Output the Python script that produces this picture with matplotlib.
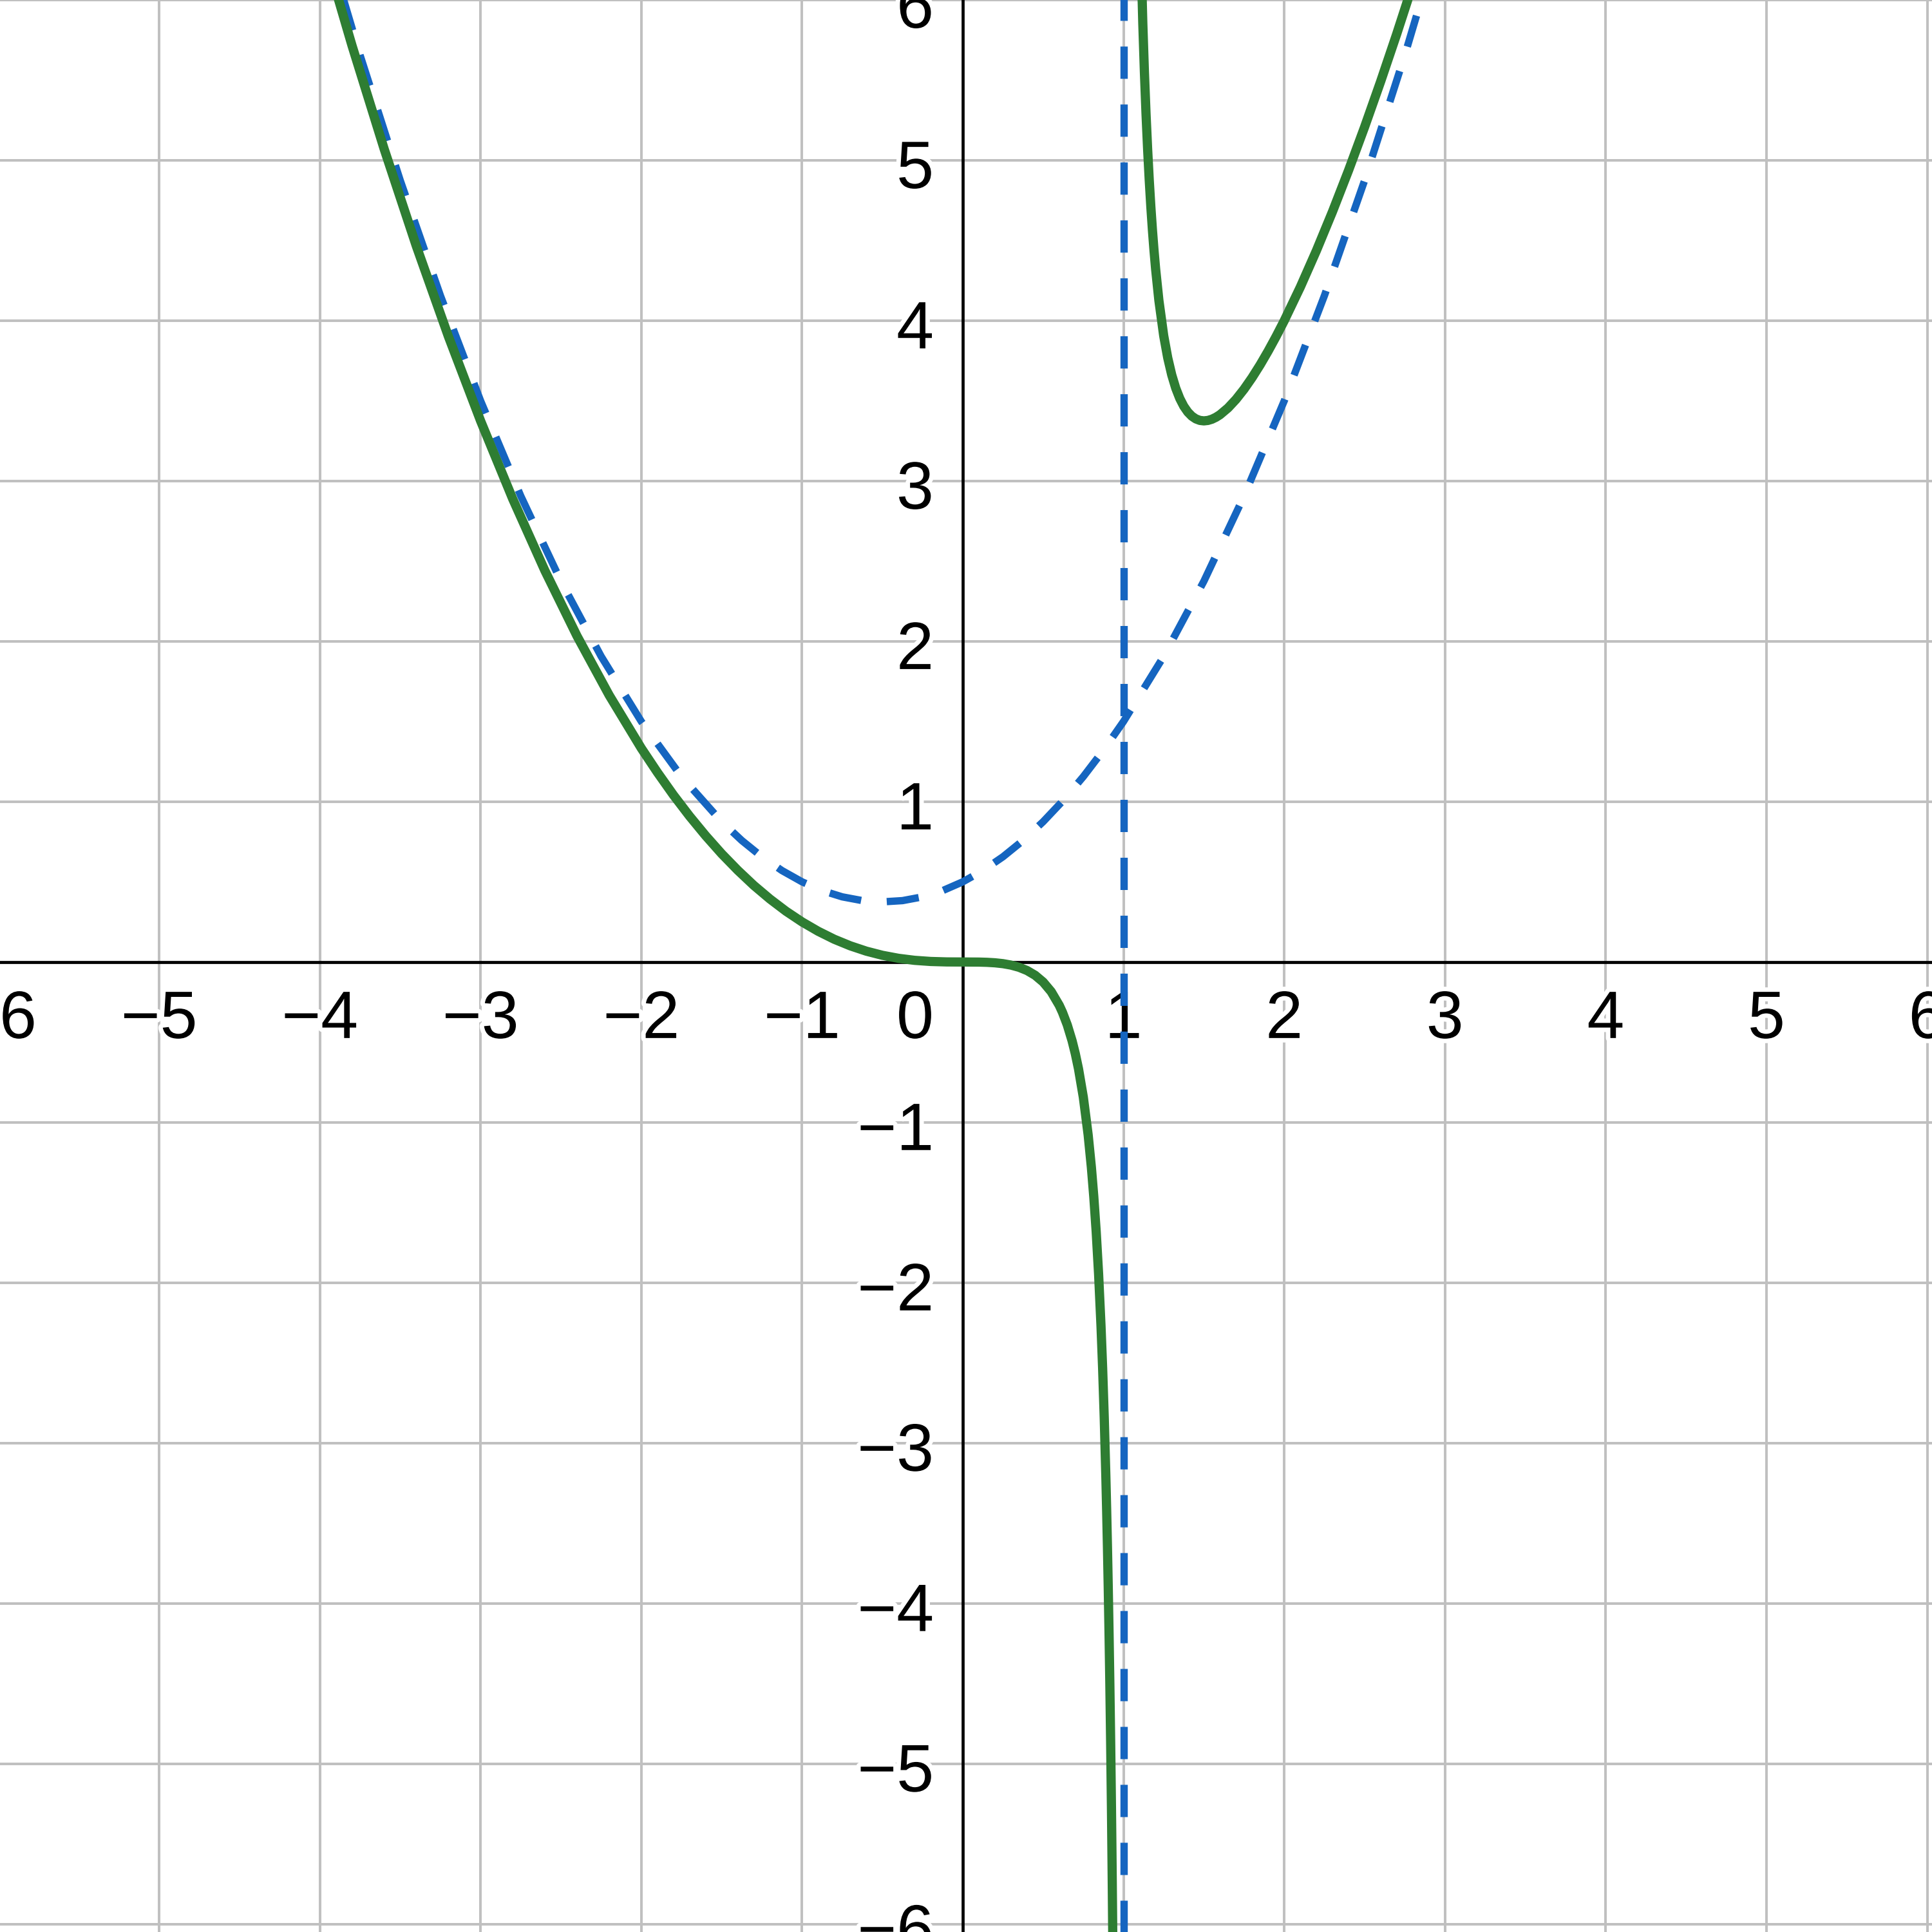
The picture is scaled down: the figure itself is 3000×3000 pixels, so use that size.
import matplotlib
matplotlib.use("Agg")
import matplotlib.pyplot as plt
import matplotlib.patheffects as pe
from matplotlib.transforms import offset_copy

plt.rcParams['font.family'] = ['Liberation Sans', 'DejaVu Sans']

# 绿色曲线：左支（x -> 1 左侧）
green_left_x = [-4.0, -3.8, -3.6, -3.4, -3.2, -3.0, -2.8, -2.6, -2.4, -2.2,
                -2.0, -1.9, -1.8, -1.7, -1.6, -1.5, -1.4, -1.3, -1.2, -1.1,
                -1.0, -0.9, -0.8, -0.7, -0.6, -0.5, -0.4, -0.3, -0.2, -0.1,
                0.0, 0.1, 0.15, 0.2, 0.25, 0.3, 0.35, 0.4, 0.45, 0.5,
                0.55, 0.6, 0.62, 0.65, 0.68, 0.7, 0.72, 0.75, 0.78, 0.8,
                0.815, 0.83, 0.845, 0.86, 0.87, 0.88, 0.89, 0.895, 0.9, 0.905,
                0.91, 0.915, 0.92, 0.925, 0.93, 0.935, 0.94]
green_left_y = [6.4, 5.716, 5.071, 4.466, 3.901, 3.375, 2.888, 2.441, 2.033, 1.664,
                1.333, 1.1826, 1.041, 0.9098, 0.788, 0.675, 0.572, 0.4776, 0.393, 0.3169,
                0.25, 0.1918, 0.142, 0.1009, 0.0675, 0.0417, 0.0229, 0.0104, 0.0033, 0.00045,
                0.0, -0.00056, -0.002, -0.005, -0.0104, -0.0193, -0.033, -0.0533, -0.0828, -0.125,
                -0.1849, -0.27, -0.3136, -0.3923, -0.4913, -0.5717, -0.6665, -0.8438, -1.0785, -1.28,
                -1.4631, -1.6817, -1.9463, -2.2716, -2.5327, -2.8395, -3.2044, -3.4139, -3.645, -3.9011,
                -4.1865, -4.5062, -4.8668, -5.2764, -5.7454, -6.2877, -6.9215]

# 绿色曲线：右支（x -> 1 右侧）
green_right_x = [1.1, 1.105, 1.12, 1.13, 1.14, 1.15, 1.16, 1.17, 1.18, 1.19,
                 1.2, 1.22, 1.25, 1.275, 1.3, 1.325, 1.35, 1.375, 1.4, 1.425,
                 1.45, 1.475, 1.5, 1.525, 1.55, 1.575, 1.6, 1.65, 1.7, 1.75,
                 1.8, 1.85, 1.9, 1.95, 2.0, 2.1, 2.2, 2.3, 2.4, 2.5,
                 2.6, 2.7, 2.8]
green_right_y = [6.655, 6.4249, 5.854, 5.5496, 5.2912, 5.0696, 4.8778, 4.7106, 4.564, 4.4346,
                 4.32, 4.1269, 3.9063, 3.7685, 3.6617, 3.5788, 3.5148, 3.4661, 3.43, 3.4043,
                 3.3874, 3.3779, 3.375, 3.3777, 3.3853, 3.3974, 3.4133, 3.4555, 3.5093, 3.5729,
                 3.645, 3.7245, 3.8106, 3.9026, 4.0, 4.2095, 4.4367, 4.6796, 4.9371, 5.2083,
                 5.4925, 5.7891, 6.0978]

# 蓝色虚线：抛物线渐近线
blue_x = [-4.0, -3.75, -3.5, -3.25, -3.0, -2.75, -2.5, -2.25, -2.0, -1.75,
          -1.5, -1.375, -1.25, -1.125, -1.0, -0.875, -0.75, -0.625, -0.5, -0.375,
          -0.25, -0.125, 0.0, 0.125, 0.25, 0.375, 0.5, 0.625, 0.75, 0.875,
          1.0, 1.25, 1.5, 1.75, 2.0, 2.25, 2.5, 2.75, 3.0]
blue_y = [6.5, 5.6563, 4.875, 4.1563, 3.5, 2.9063, 2.375, 1.9063, 1.5, 1.1563,
          0.875, 0.7578, 0.6563, 0.5703, 0.5, 0.4453, 0.4063, 0.3828, 0.375, 0.3828,
          0.4063, 0.4453, 0.5, 0.5703, 0.6563, 0.7578, 0.875, 1.0078, 1.1563, 1.3203,
          1.5, 1.9063, 2.375, 2.9063, 3.5, 4.1563, 4.875, 5.6563, 6.5]

# 竖直渐近线
asymptote_x = 1.0

# 刻度
x_ticks = [-6, -5, -4, -3, -2, -1, 1, 2, 3, 4, 5, 6]
y_ticks = [-6, -5, -4, -3, -2, -1, 1, 2, 3, 4, 5, 6]

GREEN = '#2e7d32'
BLUE = '#1565c0'
GRID = '#c0c0c0'

fig = plt.figure(figsize=(30, 30), dpi=100)
ax = fig.add_axes([0, 0, 1, 1])
ax.set_xlim(-5.99, 6.03)
ax.set_ylim(-6.05, 6.0)
for s in ax.spines.values():
    s.set_visible(False)
ax.set_xticks([])
ax.set_yticks([])

# 网格线
for v in x_ticks:
    ax.axvline(v, color=GRID, linewidth=2.9, zorder=0.5)
for v in y_ticks:
    ax.axhline(v, color=GRID, linewidth=2.9, zorder=0.5)

# 坐标轴
ax.axhline(0, color='black', linewidth=3.4, zorder=1)
ax.axvline(0, color='black', linewidth=3.4, zorder=1)

# 刻度标签（白色描边）
halo = [pe.withStroke(linewidth=10, foreground='white')]
fs = 75


def fmt(v):
    return str(v).replace('-', '\u2212')


tx = offset_copy(ax.transData, fig=fig, x=0, y=-85, units='points')
for v in x_ticks:
    ax.text(v, 0, fmt(v), transform=tx, ha='center', va='baseline',
            fontsize=fs, path_effects=halo, zorder=2)
ty = offset_copy(ax.transData, fig=fig, x=-32.4, y=-31, units='points')
for v in y_ticks:
    ax.text(0, v, fmt(v), transform=ty, ha='right', va='baseline',
            fontsize=fs, path_effects=halo, zorder=2)
t0 = offset_copy(ax.transData, fig=fig, x=-32.4, y=-85, units='points')
ax.text(0, 0, '0', transform=t0, ha='right', va='baseline',
        fontsize=fs, path_effects=halo, zorder=2)

# 曲线
dash = (4.4, 3.5)
ax.plot([asymptote_x, asymptote_x], [-7, 7], color=BLUE, linewidth=8.2,
        linestyle=(0, dash), zorder=3)
ax.plot(blue_x, blue_y, color=BLUE, linewidth=8.2, linestyle=(0, dash), zorder=4)
ax.plot(green_left_x, green_left_y, color=GREEN, linewidth=10.3,
        solid_joinstyle='round', solid_capstyle='round', zorder=5)
ax.plot(green_right_x, green_right_y, color=GREEN, linewidth=10.3,
        solid_joinstyle='round', solid_capstyle='round', zorder=5)

fig.savefig('out.png', dpi=100)
